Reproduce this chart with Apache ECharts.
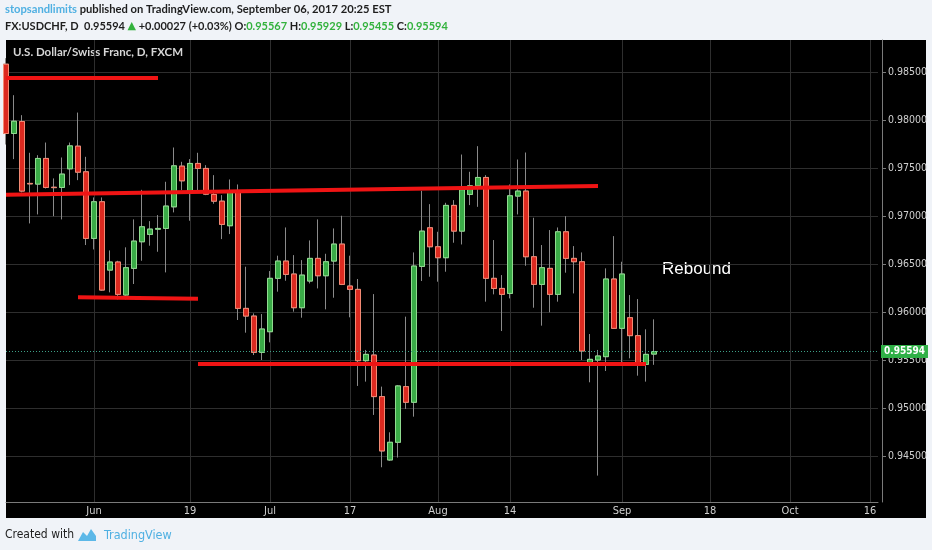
<!DOCTYPE html>
<html><head><meta charset="utf-8">
<script src="https://cdn.jsdelivr.net/npm/echarts@6/dist/echarts.min.js"></script>
<style>html,body{margin:0;padding:0;background:#f0f3f8}#c{width:932px;height:550px}</style>
</head><body><div id="c"></div>
<script>
// ---- data ----
const firstDay = '2017-05-17';
const lastDay = '2017-10-17';
function weekdays(a, b) {
  const out = []; let d = new Date(a + 'T00:00:00Z'); const e = new Date(b + 'T00:00:00Z');
  while (d <= e) { const w = d.getUTCDay(); if (w !== 0 && w !== 6) out.push(d.toISOString().slice(0, 10)); d = new Date(d.getTime() + 86400000); }
  return out;
}
const categories = weekdays(firstDay, lastDay);
const xTickLabels = {
  '2017-06-01': 'Jun', '2017-06-19': '19', '2017-07-03': 'Jul', '2017-07-17': '17',
  '2017-08-01': 'Aug', '2017-08-14': '14', '2017-09-01': 'Sep', '2017-09-18': '18',
  '2017-10-02': 'Oct', '2017-10-16': '16'
};
const yTickValues = [0.945, 0.950, 0.955, 0.960, 0.965, 0.970, 0.975, 0.980, 0.985];
// [open, close, low, high]
const candles = [
  [0.98587,0.97865,0.97750,0.98650],[0.97865,0.97993,0.97598,0.98264],[0.97990,0.97265,0.97251,0.98056],
  [0.97345,0.97340,0.96928,0.97664],[0.97338,0.97605,0.97022,0.97639],[0.97605,0.97303,0.97292,0.97771],
  [0.97305,0.97301,0.97004,0.97397],[0.97303,0.97442,0.96970,0.97615],[0.97497,0.97736,0.97327,0.97771],
  [0.97733,0.97462,0.97379,0.98083],[0.97466,0.96772,0.96703,0.97622],[0.96772,0.97154,0.96657,0.97199],
  [0.97154,0.96234,0.96227,0.97199],[0.96442,0.96526,0.96210,0.96647],[0.96526,0.96189,0.96137,0.96539],
  [0.96182,0.96467,0.96137,0.96679],[0.96460,0.96744,0.96297,0.96970],[0.96737,0.96893,0.96539,0.97278],
  [0.96814,0.96869,0.96696,0.96952],[0.96868,0.96876,0.96633,0.97015],[0.96876,0.97109,0.96418,0.97362],
  [0.97101,0.97528,0.97043,0.97719],[0.97525,0.97372,0.97275,0.97570],[0.97251,0.97553,0.96956,0.97598],
  [0.97553,0.97501,0.97265,0.97664],[0.97501,0.97233,0.97223,0.97535],[0.97230,0.97160,0.97133,0.97431],
  [0.97160,0.96918,0.96765,0.97223],[0.96904,0.97251,0.96817,0.97386],[0.97251,0.96043,0.95922,0.97334],
  [0.96043,0.95963,0.95790,0.96477],[0.95963,0.95585,0.95557,0.95991],[0.95585,0.95828,0.95505,0.95984],
  [0.95800,0.96356,0.95689,0.96432],[0.96356,0.96536,0.96217,0.96592],[0.96536,0.96397,0.96331,0.96886],
  [0.96401,0.96050,0.96009,0.96598],[0.96050,0.96390,0.95946,0.96546],[0.96328,0.96564,0.96303,0.96751],
  [0.96564,0.96383,0.96251,0.96970],[0.96383,0.96529,0.96033,0.96612],[0.96536,0.96713,0.96154,0.96876],
  [0.96713,0.96293,0.96286,0.97008],[0.96276,0.96241,0.95950,0.96592],[0.96241,0.95498,0.95235,0.96349],
  [0.95498,0.95564,0.95280,0.95610],[0.95557,0.95124,0.94933,0.96192],[0.95124,0.94558,0.94388,0.95228],
  [0.94464,0.94648,0.94454,0.94752],[0.94648,0.95235,0.94489,0.95245],[0.95228,0.95065,0.94995,0.95957],
  [0.95065,0.96484,0.94915,0.96626],[0.96480,0.96848,0.96328,0.97268],[0.96883,0.96685,0.96373,0.97129],
  [0.96685,0.96571,0.96321,0.96841],[0.96571,0.97116,0.96425,0.97143],[0.97116,0.96848,0.96727,0.97171],
  [0.96848,0.97279,0.96709,0.97646],[0.97230,0.97320,0.97119,0.97466],[0.97320,0.97407,0.97101,0.97733],
  [0.97407,0.96356,0.96113,0.97431],[0.96356,0.96251,0.96189,0.96755],[0.96251,0.96189,0.95807,0.96390],
  [0.96199,0.97216,0.96147,0.97334],[0.97213,0.97265,0.97022,0.97594],[0.97265,0.96581,0.96487,0.97667],
  [0.96581,0.96293,0.96050,0.96987],[0.96293,0.96467,0.95863,0.96703],[0.96460,0.96189,0.96002,0.96859],
  [0.96189,0.96841,0.96113,0.96886],[0.96841,0.96564,0.96415,0.97004],[0.96564,0.96529,0.96199,0.96692],
  [0.96529,0.95599,0.95505,0.96626],[0.95453,0.95512,0.95273,0.95776],[0.95505,0.95547,0.94301,0.95610],
  [0.95540,0.96349,0.95391,0.96460],[0.96349,0.95835,0.95828,0.96796],[0.95835,0.96401,0.95471,0.96529],
  [0.95946,0.95759,0.95523,0.96182],[0.95759,0.95460,0.95342,0.96140],[0.95460,0.95564,0.95280,0.95825],
  [0.95567,0.95594,0.95455,0.95929]
];
const lastPrice = 0.95594;
// drawn trend lines: [[startIndex, price], [endIndex, price]]
const trendLines = [
  [[0, 0.98450], [19, 0.98450]],
  [[0, 0.97227], [74, 0.97318]],
  [[9, 0.96158], [24, 0.96144]],
  [[24, 0.95464], [80, 0.95464]]
];

// ---- chart ----
const chart = echarts.init(document.getElementById('c'));
const narrow = "'Liberation Sans Narrow', 'DejaVu Sans Condensed', sans-serif";
const hdrFont = "Lato, 'Open Sans', sans-serif";
const isTick = (i, v) => !!xTickLabels[v];

chart.setOption({
  backgroundColor: '#f0f3f8',
  animation: false,
  grid: { left: 6, right: 54, top: 40, bottom: 48 },
  xAxis: {
    type: 'category', data: categories, boundaryGap: false,
    axisLine: { lineStyle: { color: '#7a7a7a' } },
    axisTick: { show: false },
    axisLabel: { interval: isTick, formatter: v => xTickLabels[v] || '', color: '#cfcfcf', fontFamily: narrow, fontSize: 11, margin: 4 },
    splitLine: { show: true, interval: isTick, lineStyle: { color: '#2e2e2e', width: 1 } }
  },
  yAxis: {
    type: 'value', position: 'right', offset: 4, scale: true,
    min: 0.94026, max: 0.98839,
    axisLine: { show: true, lineStyle: { color: '#7a7a7a' } },
    axisTick: { show: true, length: 4, customValues: yTickValues, lineStyle: { color: '#7a7a7a' } },
    axisLabel: { customValues: yTickValues, formatter: v => v.toFixed(5), color: '#cfcfcf', fontFamily: narrow, fontSize: 10.5, margin: 6 },
    splitLine: { show: true, lineStyle: { color: '#2e2e2e', width: 1 } }
  },
  graphic: [
    { type: 'rect', z: -10, shape: { x: 6, y: 40, width: 920, height: 478 }, style: { fill: '#000000' } },
    { type: 'text', x: 5, y: 4, style: {
      text: '{u|stopsandlimits}{d| published on TradingView.com, September 06, 2017 20:25 EST}',
      rich: { u: { fill: '#4fb0e2', fontFamily: hdrFont, fontSize: 11.2, fontWeight: 'bold' },
              d: { fill: '#1e1e1e', fontFamily: hdrFont, fontSize: 11.2, fontWeight: 'bold' } } } },
    { type: 'text', x: 5, y: 21, style: {
      text: '{d|FX:USDCHF, D  0.95594 }{t|▲}{d| +0.00027 (+0.03%) O:}{g|0.95567}{d| H:}{g|0.95929}{d| L:}{g|0.95455}{d| C:}{g|0.95594}',
      rich: { d: { fill: '#1e1e1e', fontFamily: hdrFont, fontSize: 11, fontWeight: 'bold' },
              t: { fill: '#33b23d', fontFamily: "'DejaVu Sans', sans-serif", fontSize: 11 },
              g: { fill: '#33b23d', fontFamily: hdrFont, fontSize: 11, fontWeight: 'bold' } } } },
    { type: 'text', x: 13, y: 46, style: { text: 'U.S. Dollar/Swiss Franc, D, FXCM', fill: '#d6d6d6', fontFamily: hdrFont, fontSize: 11.5, fontWeight: 'bold' } },
    { type: 'text', x: 662, y: 261, style: { text: 'Rebound', fill: '#ffffff', fontFamily: "'Liberation Sans', Arial, sans-serif", fontSize: 17 } },
    { type: 'text', x: 5, y: 529, style: { text: 'Created with', fill: '#1e1e1e', fontFamily: narrow, fontSize: 12 } },
    { type: 'polygon', shape: { points: [[78,541],[83,532],[87,536],[91,529],[96,536],[96,541]] }, style: { fill: '#5cb8e8' } },
    { type: 'text', x: 104, y: 529, style: { text: 'TradingView', fill: '#4fb0e2', fontFamily: narrow, fontSize: 12.5 } }
  ],
  series: [
    {
      type: 'candlestick', name: 'wicks', data: candles, barWidth: 5, silent: true, z: 2,
      itemStyle: { color: '#8a8a8a', color0: '#8a8a8a', borderColor: '#8a8a8a', borderColor0: '#8a8a8a', borderWidth: 1 }
    },
    {
      type: 'candlestick', name: 'USDCHF', z: 3, barWidth: 5,
      data: candles.map(c => [c[0], c[1], Math.min(c[0], c[1]), Math.max(c[0], c[1])]),
      itemStyle: { color: '#3aab47', color0: '#dc2a20', borderColor: '#8fdc8f', borderColor0: '#f38a74', borderWidth: 1 },
      markLine: {
        silent: true, symbol: ['none', 'none'], animation: false,
        data: trendLines.map(t => [
          { coord: [categories[t[0][0]], t[0][1]], lineStyle: { color: '#f01414', width: 4, type: 'solid' }, label: { show: false } },
          { coord: [categories[t[1][0]], t[1][1]] }
        ]).concat([[
          { coord: [categories[0], lastPrice], lineStyle: { color: '#3d9f86', width: 1, type: [1, 2] },
            label: { show: true, position: 'end', distance: 3, formatter: lastPrice.toFixed(5), color: '#ffffff', backgroundColor: '#2fb046', padding: [2, 3, 1, 3], fontFamily: narrow, fontSize: 10, fontWeight: 'bold' } },
          { coord: [categories[categories.length - 1], lastPrice] }
        ]])
      }
    }
  ]
});
</script>
</body></html>
